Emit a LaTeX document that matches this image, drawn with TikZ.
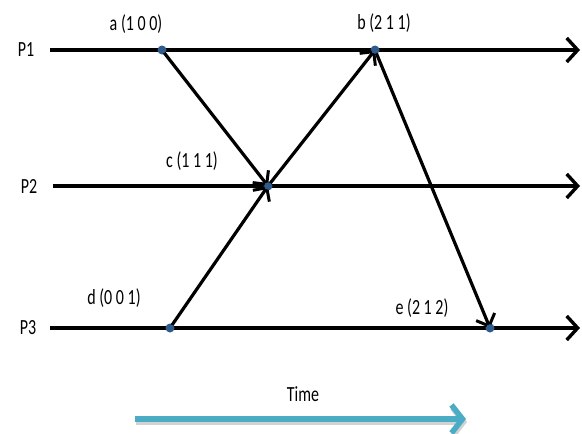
\documentclass[tikz,border=0pt]{standalone}
\usepackage{fontspec}
\setmainfont{Carlito}
\usetikzlibrary{arrows.meta,calc}
\definecolor{dotblue}{HTML}{2F5A8C}
\definecolor{timeteal}{HTML}{4BACC6}
\newcommand{\talltext}[1]{\scalebox{1}[1.35]{#1}}
\tikzset{
  procline/.style={line width=4pt, -{Straight Barb[length=11pt,width=24pt,line width=3.4pt]}},
  msg/.style={line width=3.2pt, -{Straight Barb[length=10pt,width=20pt,line width=3pt]}},
  event/.style={circle, fill=dotblue, inner sep=0pt, minimum size=9pt},
  lbl/.style={font=\fontsize{16}{18}\selectfont}
}
\begin{document}
\begin{tikzpicture}[x=1pt,y=-1pt]
        \useasboundingbox (0,0) rectangle (582,434);
        
        % Procesos
        \node[lbl] (p1) at (26,50) {\talltext{P1}};
        \node[lbl] (p2) at (29,186) {\talltext{P2}};
        \node[lbl] (p3) at (28,328) {\talltext{P3}};
        \coordinate (p1end) at (580,50);
        \coordinate (p2end) at (580,186);
        \coordinate (p3end) at (580,328);
        \draw[procline] (50,50) -- (p1end);
        \draw[procline] (53,186) -- (p2end);
        \draw[procline] (50,328) -- (p3end);
        
        % Eventos
        \node[event] (a) at (162,50) {};
        \node[event] (b) at (375,50) {};
        \node[event] (c) at (268,186) {};
        \node[event] (d) at (170,328) {};
        \node[event] (e) at (490,328) {};
        
        % Mensajes
        \draw[msg] (a.center) -- (c.center);
        \draw[msg] (c.center) -- (b.center);
        \draw[msg] (d.center) -- (c.center);
        \draw[msg] (b.center) -- (e.center);
        \foreach \ev in {a,b,c,d,e}
          \fill[dotblue] (\ev) circle (3.8pt);
        
        % Marcas de tiempo
        \node[lbl] (la) at (136,24) {\talltext{a (1 0 0)}};
        \node[lbl] (lb) at (384,23) {\talltext{b (2 1 1)}};
        \node[lbl] (lc) at (192,161) {\talltext{c (1 1 1)}};
        \node[lbl] (ld) at (114,298) {\talltext{d (0 0 1)}};
        \node[lbl] (le) at (422,308) {\talltext{e (2 1 2)}};
        
        % Tiempo
        \node[lbl] (time) at (303,394) {\talltext{Time}};
        \coordinate (t0) at (135,419);
        \coordinate (t1) at (466,419);
        \draw[line width=6pt, gray!35, -{Straight Barb[length=11pt,width=28pt,line width=5.5pt]}] ($(t0)+(1,3)$) -- ($(t1)+(1,3)$);
        \draw[line width=6pt, timeteal, -{Straight Barb[length=11pt,width=28pt,line width=5.5pt]}] (t0) -- (t1);
\end{tikzpicture}
\end{document}
